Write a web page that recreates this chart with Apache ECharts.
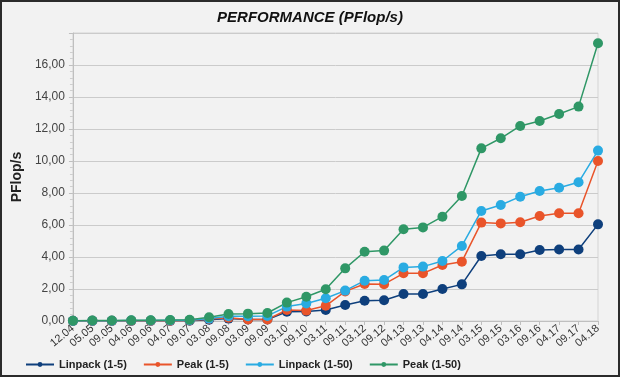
<!DOCTYPE html>
<html>
<head>
<meta charset="utf-8">
<script src="https://cdn.jsdelivr.net/npm/echarts@6/dist/echarts.min.js"></script>
<style>
  html, body { margin: 0; padding: 0; background: #2b2b2b; }
  #chart { width: 616px; height: 373px; margin: 2px; background: #f2f2f2; }
</style>
</head>
<body>
<div id="chart"></div>
<script>
var categories = ['12.04', '05.05', '09.05', '04.06', '09.06', '04.07', '09.07', '03.08', '09.08', '03.09',
  '09.09', '03.10', '09.10', '03.11', '09.11', '03.12', '09.12', '04.13', '09.13', '04.14',
  '09.14', '03.15', '09.15', '03.16', '09.16', '04.17', '09.17', '04.18'];

var linpack5 = [0.01, 0.01, 0.01, 0.01, 0.01, 0.01, 0.02, 0.08, 0.15, 0.09,
  0.09, 0.58, 0.6, 0.69, 1.0, 1.27, 1.3, 1.69, 1.69, 2.0,
  2.29, 4.06, 4.17, 4.17, 4.44, 4.47, 4.47, 6.04];
var peak5 = [0.01, 0.01, 0.01, 0.02, 0.02, 0.02, 0.03, 0.12, 0.2, 0.1,
  0.1, 0.69, 0.65, 0.95, 1.85, 2.31, 2.3, 2.98, 2.98, 3.5,
  3.71, 6.15, 6.1, 6.17, 6.56, 6.73, 6.73, 10.0];
var linpack50 = [0.01, 0.02, 0.02, 0.03, 0.03, 0.04, 0.05, 0.15, 0.3, 0.3,
  0.32, 0.9, 1.1, 1.42, 1.9, 2.52, 2.56, 3.35, 3.4, 3.75,
  4.69, 6.88, 7.25, 7.77, 8.12, 8.33, 8.67, 10.65];
var peak50 = [0.02, 0.03, 0.03, 0.04, 0.05, 0.06, 0.08, 0.23, 0.44, 0.46,
  0.5, 1.15, 1.52, 1.98, 3.29, 4.33, 4.4, 5.73, 5.85, 6.52,
  7.81, 10.79, 11.42, 12.19, 12.5, 12.94, 13.4, 17.36];

var seriesNames = ['Linpack (1-5)', 'Peak (1-5)', 'Linpack (1-50)', 'Peak (1-50)'];
var colors = ['#0e3f7c', '#e9542a', '#29abe2', '#2f9766'];

var chart = echarts.init(document.getElementById('chart'));

function line(name, data, color) {
  return {
    name: name,
    type: 'line',
    data: data,
    symbol: 'circle',
    symbolSize: 10,
    itemStyle: { color: color },
    lineStyle: { color: color, width: 1.5 }
  };
}

chart.setOption({
  color: colors,
  animation: false,
  title: {
    text: 'PERFORMANCE (PFlop/s)',
    left: 'center',
    top: 3,
    textStyle: { fontFamily: 'Liberation Sans', fontSize: 15, fontWeight: 'bold', fontStyle: 'italic', color: '#111' }
  },
  grid: {
    show: true,
    left: 58,
    right: 20,
    top: 31,
    bottom: 54,
    borderColor: '#d4d4d4',
    borderWidth: 1
  },
  legend: {
    data: seriesNames,
    left: 18,
    bottom: 0,
    itemWidth: 28,
    itemHeight: 6,
    itemGap: 16,
    textStyle: { fontFamily: 'Liberation Sans', fontSize: 11, fontWeight: 'bold', color: '#222' }
  },
  xAxis: {
    type: 'category',
    data: categories,
    boundaryGap: false,
    axisLine: { lineStyle: { color: '#bfbfbf' } },
    axisTick: { show: true, alignWithLabel: true, length: 4, lineStyle: { color: '#bfbfbf' } },
    axisLabel: {
      rotate: 40,
      interval: 0,
      margin: 6,
      fontFamily: 'Liberation Sans',
      fontSize: 11,
      color: '#333'
    }
  },
  yAxis: {
    type: 'value',
    min: 0,
    max: 18,
    interval: 2,
    name: 'PFlop/s',
    nameLocation: 'middle',
    nameGap: 41,
    nameTextStyle: { fontFamily: 'Liberation Sans', fontSize: 14, fontWeight: 'bold', color: '#222' },
    axisLine: { show: true, lineStyle: { color: '#bfbfbf' } },
    axisTick: { show: true, length: 4, lineStyle: { color: '#bfbfbf' } },
    minorTick: { show: true, splitNumber: 5, length: 3, lineStyle: { color: '#cfcfcf' } },
    splitLine: { lineStyle: { color: '#cbcbcb' } },
    axisLabel: {
      showMaxLabel: false,
      fontFamily: 'Liberation Sans',
      fontSize: 12,
      color: '#444',
      formatter: function (v) { return v >= 18 ? '' : v.toFixed(2).replace('.', ','); }
    }
  },
  series: [
    line(seriesNames[0], linpack5, colors[0]),
    line(seriesNames[1], peak5, colors[1]),
    line(seriesNames[2], linpack50, colors[2]),
    line(seriesNames[3], peak50, colors[3])
  ]
});
</script>
</body>
</html>
